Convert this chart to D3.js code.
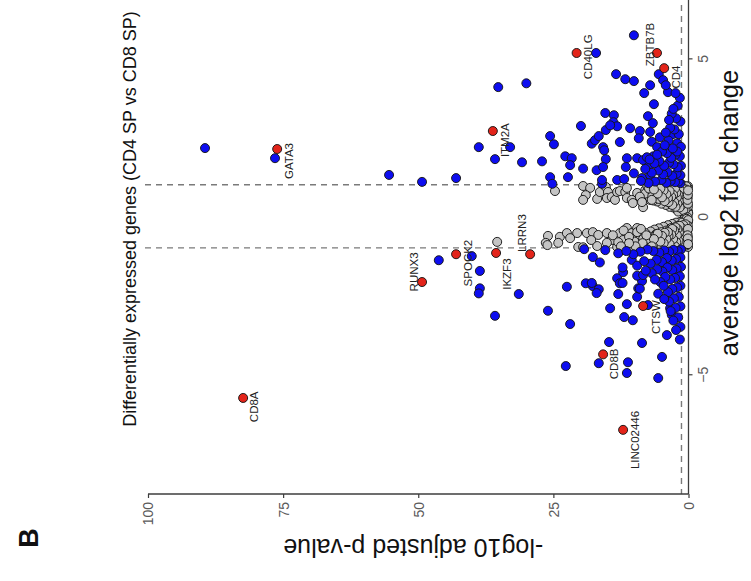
<!DOCTYPE html>
<html><head><meta charset="utf-8">
<script src="https://cdn.jsdelivr.net/npm/d3@7"></script>
<style>
body{margin:0;background:#fff;}
svg{display:block;}
text{font-family:"Liberation Sans",Arial,Helvetica,sans-serif;}
</style>
</head><body>
<svg id="chart" width="751" height="581"></svg>
<script>
// ---------------- DATA ----------------
const pTicks = [0, 25, 50, 75, 100];
const fcTicks = [-5, 0, 5];
const fcThreshold = [-1, 1];
const pThreshold = 1.3; // -log10(0.05)

// non-significant genes: [ -log10 adj p , log2FC ]
const grayPoints = [
  [24.7,0.80],[19.5,0.96],[18.2,0.90],[19.0,0.67],[19.5,0.52],[16.9,0.55],[16.4,0.77],[15.3,0.93],
  [14.9,0.77],[15.1,0.58],[14.2,0.61],[13.6,0.52],[13.2,0.77],[12.7,0.80],[11.7,0.77],[11.4,0.90],
  [11.4,0.58],[10.5,0.52],[10.3,0.42],[9.5,0.74],[8.4,0.29],[7.1,0.52],[8.0,0.83],
  [0.2,0.02],[0.5,0.05],[0.8,0.08],[0.3,0.12],[1.0,0.14],[0.6,0.18],[1.5,0.2],[2.2,0.22],[0.4,0.25],
  [1.2,0.27],[2.8,0.28],[3.5,0.3],[0.8,0.32],[1.9,0.35],[4.2,0.36],[2.6,0.4],[5.0,0.4],[0.5,0.42],
  [3.3,0.44],[1.4,0.46],[5.8,0.47],[4.0,0.5],[2.1,0.52],[6.5,0.5],[0.9,0.55],[3.0,0.57],[4.8,0.58],
  [7.2,0.6],[5.6,0.62],[1.7,0.63],[2.5,0.66],[3.8,0.68],[6.2,0.7],[0.6,0.72],[8.0,0.72],[4.5,0.75],
  [1.2,0.78],[2.9,0.8],[5.3,0.82],[7.0,0.84],[0.4,0.86],[3.6,0.88],[6.0,0.9],[1.8,0.92],[4.4,0.95],
  [2.4,0.98],[0.9,0.97],[7.6,0.95],[9.0,0.62],[8.6,0.45],[0.2,0.35],[0.15,0.6],[0.25,0.8],[0.1,0.95],[0.3,0.5],
  [0.1,0.15],[0.2,0.2],[0.35,0.05],[0.45,0.28],[0.6,0.38],[0.7,0.12],[0.9,0.3],[1.1,0.42],[1.3,0.22],
  [1.6,0.55],[1.7,0.36],[2.0,0.68],[2.3,0.48],[2.7,0.58],[3.1,0.74],[3.4,0.52],[3.9,0.85],[4.3,0.62],
  [4.7,0.9],[5.1,0.7],[5.5,0.55],[6.0,0.8],[6.7,0.64],[7.3,0.88],[1.0,0.88],[1.5,0.72],[0.5,0.64],
  [2.0,0.82],[2.8,0.93],[3.3,0.4],[0.8,0.5],[1.9,0.15],[0.2,0.7],[0.15,0.9],[0.4,0.95],
  [0.05,0.1],[0.12,0.3],[0.22,0.45],[0.28,0.58],[0.35,0.75],[0.5,0.85],[0.55,0.22],[0.65,0.48],
  [0.75,0.62],[0.85,0.78],[0.95,0.2],[1.05,0.58],[1.15,0.7],[1.25,0.92],[1.35,0.35],[1.45,0.62],
  [1.55,0.82],[1.65,0.28],[1.75,0.48],[1.85,0.68],[2.05,0.4],[2.15,0.6],[2.25,0.75],[2.4,0.3],
  [2.5,0.88],[2.65,0.45],[2.85,0.68],[3.0,0.36],[3.2,0.62],[3.5,0.8],[3.7,0.45],[3.8,0.58],
  [4.1,0.7],[4.4,0.48],[4.6,0.82],[4.9,0.6],[5.2,0.88],[5.7,0.72],[6.4,0.85],[6.8,0.52],
  [0.1,0.4],[0.18,0.52],[0.12,0.68],[0.08,0.82],
  [35.4,-0.81],[26.0,-0.62],[26.4,-0.84],[23.8,-0.65],[24.1,-0.84],[22.5,-0.53],[20.6,-0.53],[21.9,-0.69],
  [20.4,-0.97],[18.8,-0.53],[17.7,-0.50],[16.7,-0.59],[15.1,-0.53],[14.2,-0.75],[12.7,-0.53],[12.1,-0.75],
  [11.4,-0.37],[10.5,-0.53],[9.5,-0.37],[16.9,-0.94],[15.1,-0.84],[13.2,-0.97],[26.1,-0.91],[19.5,-0.98],
  [0.2,-0.03],[0.6,-0.06],[0.3,-0.1],[1.0,-0.12],[0.5,-0.16],[1.6,-0.18],[2.3,-0.2],[0.8,-0.22],[3.0,-0.24],
  [1.4,-0.26],[3.8,-0.28],[0.4,-0.3],[2.2,-0.31],[4.6,-0.33],[1.1,-0.35],[3.2,-0.37],[5.5,-0.38],[2.6,-0.41],
  [6.3,-0.42],[0.7,-0.44],[4.1,-0.45],[1.8,-0.47],[7.0,-0.48],[5.0,-0.5],[3.0,-0.52],[8.0,-0.53],[0.5,-0.55],
  [6.0,-0.56],[2.2,-0.58],[4.4,-0.6],[9.0,-0.6],[1.3,-0.62],[7.3,-0.64],[3.4,-0.66],[5.4,-0.68],[0.9,-0.7],
  [8.4,-0.72],[2.7,-0.74],[6.5,-0.76],[4.0,-0.78],[1.6,-0.8],[7.8,-0.82],[3.2,-0.84],[5.8,-0.86],[0.6,-0.88],
  [9.3,-0.88],[2.3,-0.9],[4.7,-0.92],[6.9,-0.94],[1.1,-0.96],[3.7,-0.97],[8.6,-0.98],[10.5,-0.7],[10.0,-0.8],
  [0.2,-0.45],[0.15,-0.65],[0.3,-0.85],[0.1,-0.97],
  [0.1,-0.18],[0.25,-0.22],[0.35,-0.08],[0.45,-0.35],[0.6,-0.3],[0.8,-0.4],[1.0,-0.5],[1.2,-0.2],[1.5,-0.58],
  [1.7,-0.38],[2.0,-0.7],[2.4,-0.5],[2.8,-0.62],[3.2,-0.78],[3.6,-0.45],[4.0,-0.88],[4.5,-0.65],[5.0,-0.95],
  [5.4,-0.75],[6.0,-0.6],[6.5,-0.88],[7.3,-0.72],[1.0,-0.85],[1.4,-0.95],[0.5,-0.75],[2.0,-0.92],[2.7,-0.85],
  [3.3,-0.96],[0.9,-0.62],[0.2,-0.55],[0.15,-0.78],[0.35,-0.92],[1.9,-0.3],
  [12.0,-0.45],[14.0,-0.6],[11.0,-0.65],[13.0,-0.82],[18.0,-0.75],[9.5,-0.5],[8.8,-0.4],
  [0.05,-0.12],[0.12,-0.3],[0.22,-0.38],[0.28,-0.62],[0.35,-0.7],[0.5,-0.88],[0.55,-0.25],[0.65,-0.52],
  [0.75,-0.66],[0.85,-0.8],[0.95,-0.28],[1.05,-0.4],[1.15,-0.72],[1.25,-0.9],[1.35,-0.45],[1.45,-0.68],
  [1.55,-0.86],[1.65,-0.3],[1.75,-0.52],[1.85,-0.78],[2.05,-0.4],[2.15,-0.6],[2.25,-0.82],[2.4,-0.35],
  [2.5,-0.95],[2.65,-0.45],[2.85,-0.72],[3.0,-0.4],[3.2,-0.58],[3.5,-0.88],[3.7,-0.62],[3.8,-0.5],
  [4.1,-0.72],[4.4,-0.52],[4.6,-0.85],[4.9,-0.62],[5.2,-0.8],[5.7,-0.55],[6.4,-0.72],[6.8,-0.95],
  [0.1,-0.4],[0.18,-0.6],[0.12,-0.7],[0.08,-0.88],[7.8,-0.6],[8.5,-0.85],[9.8,-0.95],[11.0,-0.85],[12.5,-0.95]
];

// significant genes (not labelled)
const bluePoints = [
  [89.45,2.16],[76.5,1.84],[55.4,1.31],[49.3,1.09],[43.0,1.21],[38.8,2.19],[35.8,1.81],[35.2,4.09],
  [30.0,4.21],[33.0,2.19],[30.8,1.71],[27.1,1.74],[25.6,2.54],[24.9,2.28],[25.6,1.24],[25.2,1.03],
  [22.8,1.90],[21.6,1.84],[21.9,1.62],[22.3,1.24],[19.9,2.86],[19.5,1.51],[17.9,2.30],[17.3,2.41],
  [16.6,2.54],[15.8,2.19],[15.6,2.09],[15.3,1.81],[17.0,1.46],[15.8,1.56],[15.4,3.27],[15.3,2.73],
  [16.0,1.03],[13.8,3.20],[13.9,2.98],[13.2,2.85],[12.7,2.35],[11.4,1.84],[11.6,1.56],[13.2,1.15],
  [11.9,1.18],[10.8,2.79],[9.0,2.70],[9.2,2.47],[10.1,1.36],[9.5,1.84],[8.4,1.78],[8.6,1.21],
  [13.4,4.50],[11.7,4.34],[10.1,4.28],[7.1,4.15],[8.2,3.90],[6.4,3.55],[5.5,4.50],[4.7,4.31],
  [3.8,3.93],[4.2,4.15],[7.5,3.17],[6.6,2.95],[7.1,2.67],[6.8,2.36],[5.8,2.19],[6.5,1.90],
  [7.7,1.87],[7.5,1.56],[7.1,1.31],[2.9,2.6],[2.1,2.31],[10.1,5.73],[17.1,5.17],[14.5,2.88],[16.0,1.15],
  [1.5,1.05],[1.8,1.1],[2.5,1.08],[3.3,1.12],[4.1,1.06],[5.0,1.15],[6.2,1.1],[7.4,1.05],[8.8,1.12],
  [1.5,1.3],[2.2,1.35],[3.0,1.28],[3.9,1.4],[4.7,1.33],[5.6,1.45],[6.8,1.38],[8.0,1.5],
  [1.4,1.6],[2.0,1.55],[2.8,1.65],[3.6,1.7],[4.5,1.6],[5.4,1.75],[6.3,1.68],[7.2,1.8],
  [1.6,1.9],[2.4,1.95],[3.2,1.85],[4.0,2.0],[4.9,2.05],[5.8,1.95],[1.4,2.2],[2.1,2.05],[2.9,2.15],
  [3.7,2.4],[4.4,2.25],[5.3,2.5],[1.8,2.6],[2.6,2.75],[3.4,2.8],[4.2,2.65],[1.5,3.0],[2.3,3.1],
  [3.1,3.25],[2.0,3.5],[2.8,3.4],[3.6,3.05],[1.6,3.75],[2.4,3.9],
  [38.6,-1.73],[38.6,-2.28],[38.8,-2.44],[35.8,-3.15],[31.4,-2.46],[26.0,-2.99],[22.5,-2.23],[21.9,-3.41],
  [19.3,-1.04],[17.7,-1.29],[15.4,-1.07],[19.0,-2.12],[17.7,-2.21],[16.6,-2.31],[17.0,-2.43],[14.5,-2.91],
  [14.7,-3.98],[13.0,-2.46],[13.2,-1.96],[12.7,-2.12],[11.9,-3.19],[11.4,-2.78],[10.3,-3.29],[9.5,-2.55],
  [8.6,-4.01],[9.3,-2.28],[8.6,-2.05],[4.0,-3.76],[4.9,-4.45],[7.5,-2.81],[3.1,-3.12],[3.4,-2.91],
  [12.1,-1.77],[22.7,-4.74],[16.6,-4.65],[11.2,-4.62],[11.4,-4.96],[5.6,-5.12],[46.2,-1.39],[40.1,-1.26],
  [13.0,-1.17],[12.2,-1.62],[10.5,-1.38],[9.5,-1.56],[9.5,-1.88],[9.0,-2.29],[12.2,-2.11],[17.9,-2.11],
  [8.4,-1.86],[16.4,-1.46],
  [1.4,-1.05],[2.0,-1.1],[2.8,-1.06],[3.6,-1.12],[4.5,-1.08],[5.4,-1.15],[6.5,-1.1],[7.6,-1.05],[8.9,-1.12],
  [10.2,-1.2],[11.5,-1.1],[1.5,-1.3],[2.3,-1.35],[3.1,-1.4],[4.0,-1.32],[4.9,-1.45],[5.9,-1.38],
  [7.0,-1.5],[8.2,-1.42],[1.4,-1.6],[2.2,-1.65],[3.0,-1.7],[3.9,-1.62],[4.8,-1.75],[5.8,-1.68],[6.8,-1.8],
  [7.9,-1.72],[1.6,-1.9],[2.5,-1.95],[3.4,-2.0],[4.3,-1.92],[5.2,-2.08],[6.2,-2.0],[1.5,-2.2],[2.1,-2.25],
  [3.0,-2.3],[3.8,-2.4],[4.6,-2.2],[5.6,-2.45],[1.8,-2.55],[2.7,-2.6],[3.6,-2.7],[4.5,-2.62],[1.5,-2.85],
  [2.4,-2.9],[3.3,-3.0],[1.9,-3.2],[2.8,-3.3],[1.5,-3.5],[2.3,-3.6],[1.6,-3.9]
];

// labelled genes
const geneNames = ["GATA3","ZBTB7B","CD4","CD40LG","ITM2A","LRRN3","IKZF3","SPOCK2","RUNX3","CTSW","CD8B","LINC02446","CD8A"];
const geneP     = [76.1, 5.83, 4.5, 20.7, 36.2, 29.3, 35.6, 43.0, 49.3, 8.4, 15.8, 12.1, 82.4];
const geneFC    = [2.13, 5.17, 4.69, 5.17, 2.70, -1.20, -1.16, -1.20, -2.08, -2.84, -4.37, -6.76, -5.75];
// label anchor (data units)
const labelP    = [73.9, 7.13, 2.31, 18.6, 33.9, 30.8, 33.6, 40.8, 50.8, 6.0, 13.8, 9.9, 80.4];
const labelFC   = [1.75, 5.44, 4.41, 5.05, 2.41, -0.53, -1.83, -1.48, -1.76, -3.19, -4.67, -7.08, -6.03];

const titleText = "Differentially expressed genes (CD4 SP vs CD8 SP)";
const pLabel = "-log10 adjusted p-value";
const fcLabel = "average log2 fold change";

// ---------------- DRAW ----------------
const svg = d3.select("#chart");
// plot is drawn rotated: -log10 p runs right-to-left, log2FC runs bottom-to-top
const x = d3.scaleLinear().domain([0, 100]).range([688.5, 148]);
const y = d3.scaleLinear().domain([-8.79, 8.43]).range([494, -50]);

const axisCol = "#3c3c3c";
const tickCol = "#5a5a5a";

// threshold lines
const dash = "6,5";
svg.selectAll("line.hthr").data(fcThreshold).join("line")
  .attr("x1", 145).attr("x2", x(0))
  .attr("y1", d => y(d)).attr("y2", d => y(d))
  .attr("stroke", "#7a7a7a").attr("stroke-width", 1.4).attr("stroke-dasharray", dash);
svg.append("line")
  .attr("x1", x(pThreshold)).attr("x2", x(pThreshold))
  .attr("y1", y.range()[1]).attr("y2", y.range()[0])
  .attr("stroke", "#7a7a7a").attr("stroke-width", 1.4).attr("stroke-dasharray", dash);

// axes
const bottomAxis = d3.axisBottom(x).tickValues(pTicks).tickSize(4).tickFormat(d3.format("d"));
const gB = svg.append("g").attr("transform", "translate(0,494)").call(bottomAxis);
gB.select(".domain").attr("stroke", axisCol).attr("stroke-width", 1.3).attr("d", `M${x(100)},0H${x(0)}`);
gB.selectAll(".tick line").attr("stroke", axisCol).attr("stroke-width", 1.2);
gB.selectAll(".tick text")
  .attr("fill", tickCol).attr("font-size", 14)
  .attr("transform", "translate(0,8) rotate(-90)")
  .attr("x", 0).attr("y", 0).attr("dy", "0.35em")
  .attr("text-anchor", "end");

const rightAxis = d3.axisRight(y).tickValues(fcTicks).tickSize(4);
const gR = svg.append("g").attr("transform", `translate(${x(0)},0)`).call(rightAxis);
gR.select(".domain").attr("stroke", axisCol).attr("stroke-width", 1.3).attr("d", `M0,${y.range()[0]}V${y.range()[1]}`);
gR.selectAll(".tick line").attr("stroke", axisCol).attr("stroke-width", 1.2);
gR.selectAll(".tick text")
  .attr("fill", tickCol).attr("font-size", 14)
  .attr("transform", "translate(19,0) rotate(-90)")
  .attr("x", 0).attr("y", 0).attr("dy", "0")
  .attr("text-anchor", "middle");

// points
const stroke = "#161616";
const r = 4.5;
svg.append("g").selectAll("circle").data(grayPoints).join("circle")
  .attr("cx", d => x(d[0])).attr("cy", d => y(d[1])).attr("r", r)
  .attr("fill", "#c4c4c4").attr("stroke", stroke).attr("stroke-width", 0.95);
svg.append("g").selectAll("circle").data(bluePoints).join("circle")
  .attr("cx", d => x(d[0])).attr("cy", d => y(d[1])).attr("r", r)
  .attr("fill", "#0d0df0").attr("stroke", stroke).attr("stroke-width", 0.95);
svg.append("g").selectAll("circle").data(geneNames).join("circle")
  .attr("cx", (d, i) => x(geneP[i])).attr("cy", (d, i) => y(geneFC[i])).attr("r", r)
  .attr("fill", "#e3241a").attr("stroke", stroke).attr("stroke-width", 0.95);

// gene labels
svg.append("g").selectAll("text").data(geneNames).join("text")
  .attr("transform", (d, i) => `translate(${x(labelP[i])},${y(labelFC[i])}) rotate(-90)`)
  .attr("dy", "0.35em").attr("text-anchor", "middle")
  .attr("font-size", 11.5).attr("fill", "#222")
  .text(d => d);

// titles
svg.append("text")
  .attr("transform", "translate(136,219) rotate(-90)")
  .attr("text-anchor", "middle").attr("font-size", 18).attr("fill", "#111")
  .text(titleText);
svg.append("text")
  .attr("transform", `translate(${(x(0) + x(100)) / 2 - 5},539) rotate(180)`)
  .attr("text-anchor", "middle").attr("font-size", 25).attr("fill", "#111")
  .text(pLabel);
svg.append("text")
  .attr("transform", "translate(738,213) rotate(-90)")
  .attr("text-anchor", "middle").attr("font-size", 25.5).attr("fill", "#111")
  .text(fcLabel);
svg.append("text")
  .attr("transform", "translate(38,538) rotate(-90)")
  .attr("text-anchor", "middle").attr("font-size", 27).attr("font-weight", "bold").attr("fill", "#111")
  .text("B");
</script>
</body></html>
